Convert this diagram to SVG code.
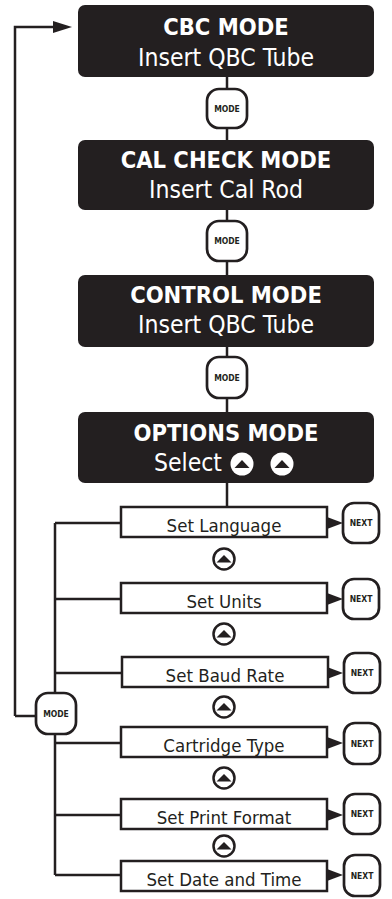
<svg xmlns="http://www.w3.org/2000/svg" width="392" height="899" viewBox="0 0 392 899">
<style>
.mode{fill:#231f20}
.t1{font-family:"DejaVu Sans Condensed","DejaVu Sans",sans-serif;font-size:23.5px;font-weight:bold;fill:#fff;text-anchor:middle}
.t2{font-family:"DejaVu Sans Condensed","DejaVu Sans",sans-serif;font-size:24.5px;fill:#fff;text-anchor:middle}
.opt{fill:#fff;stroke:#231f20;stroke-width:2.5}
.ot{font-family:"DejaVu Sans Condensed","DejaVu Sans",sans-serif;font-size:18.5px;fill:#231f20;text-anchor:middle}
.btn{fill:#fff;stroke:#231f20;stroke-width:2.7}
.bt{font-family:"DejaVu Sans Condensed","DejaVu Sans",sans-serif;font-size:8.5px;font-weight:bold;fill:#231f20;text-anchor:middle}
.ln{fill:none;stroke:#231f20;stroke-width:2.5}
.up{fill:#fff;stroke:#231f20;stroke-width:2.5}
.tri{fill:#231f20}
</style>
<g id="connectors">
<path class="ln" d="M227 77V140M227 210V275M227 347V412M227 483V507"/>
<path class="ln" d="M15 716V27H56"/>
<polygon class="tri" points="53,21 72,27 53,33"/>
<path class="ln" d="M15 716H37"/>
<path class="ln" d="M55 523V875"/>
<path class="ln" d="M55 523H121M55 599H121M55 673H121M55 743H121M55 815H121M55 875H121"/>
<polygon class="tri" points="327,517 343,523 327,529"/>
<polygon class="tri" points="327,593 343,599 327,605"/>
<polygon class="tri" points="327,667 343,673 327,679"/>
<polygon class="tri" points="327,737 343,743 327,749"/>
<polygon class="tri" points="327,809 343,815 327,821"/>
<polygon class="tri" points="327,869 343,875 327,881"/>
</g>
<g id="cbc">
<rect class="mode" x="78" y="5" width="296" height="72" rx="7"/>
<text class="t1" x="226" y="35">CBC MODE</text>
<text class="t2" x="226" y="66">Insert QBC Tube</text>
</g>
<g id="mode1"><rect class="btn" x="207" y="89" width="40" height="39" rx="12"/><text class="bt" x="227" y="111.5">MODE</text></g>
<g id="calcheck">
<rect class="mode" x="78" y="140" width="296" height="70" rx="7"/>
<text class="t1" x="226" y="168">CAL CHECK MODE</text>
<text class="t2" x="226" y="198">Insert Cal Rod</text>
</g>
<g id="mode2"><rect class="btn" x="207" y="221" width="40" height="40" rx="12"/><text class="bt" x="227" y="244">MODE</text></g>
<g id="control">
<rect class="mode" x="78" y="275" width="296" height="72" rx="7"/>
<text class="t1" x="226" y="303">CONTROL MODE</text>
<text class="t2" x="226" y="333">Insert QBC Tube</text>
</g>
<g id="mode3"><rect class="btn" x="207" y="357" width="40" height="41" rx="12"/><text class="bt" x="227" y="380.5">MODE</text></g>
<g id="options">
<rect class="mode" x="78" y="412" width="296" height="71" rx="7"/>
<text class="t1" x="226" y="441">OPTIONS MODE</text>
<text class="t2" x="222" y="471" style="text-anchor:end">Select</text>
<circle cx="242" cy="464" r="11.5" fill="#fff"/>
<polygon class="tri" points="234.5,468 242,460 249.5,468"/>
<circle cx="282" cy="464" r="11.5" fill="#fff"/>
<polygon class="tri" points="274.5,468 282,460 289.5,468"/>
</g>
<g id="set-language"><rect class="opt" x="121" y="507" width="206" height="30"/><text class="ot" x="224" y="532">Set Language</text></g>
<g id="next1"><rect class="btn" x="343" y="503" width="36" height="40" rx="11"/><text class="bt" x="361" y="526">NEXT</text></g>
<g id="up1"><circle class="up" cx="224" cy="559" r="10.5"/><polygon class="tri" points="216.5,562.5 224,555 231.5,562.5"/></g>
<g id="set-units"><rect class="opt" x="121" y="583" width="206" height="30"/><text class="ot" x="224" y="608">Set Units</text></g>
<g id="next2"><rect class="btn" x="343" y="579" width="36" height="40" rx="11"/><text class="bt" x="361" y="602">NEXT</text></g>
<g id="up2"><circle class="up" cx="224" cy="634" r="10.5"/><polygon class="tri" points="216.5,637.5 224,630 231.5,637.5"/></g>
<g id="set-baud-rate"><rect class="opt" x="122" y="657" width="206" height="30"/><text class="ot" x="225" y="682">Set Baud Rate</text></g>
<g id="next3"><rect class="btn" x="344" y="653" width="36" height="40" rx="11"/><text class="bt" x="362" y="676">NEXT</text></g>
<g id="up3"><circle class="up" cx="224" cy="707" r="10.5"/><polygon class="tri" points="216.5,710.5 224,703 231.5,710.5"/></g>
<g id="mode-left"><rect class="btn" x="36" y="693" width="40" height="41" rx="12"/><text class="bt" x="56" y="716.5">MODE</text></g>
<g id="cartridge-type"><rect class="opt" x="121" y="727" width="206" height="30"/><text class="ot" x="224" y="752">Cartridge Type</text></g>
<g id="next4"><rect class="btn" x="344" y="723" width="36" height="41" rx="11"/><text class="bt" x="362" y="746.5">NEXT</text></g>
<g id="up4"><circle class="up" cx="224" cy="778" r="10.5"/><polygon class="tri" points="216.5,781.5 224,774 231.5,781.5"/></g>
<g id="set-print-format"><rect class="opt" x="121" y="799" width="206" height="30"/><text class="ot" x="224" y="824">Set Print Format</text></g>
<g id="next5"><rect class="btn" x="344" y="794" width="36" height="40" rx="11"/><text class="bt" x="362" y="817">NEXT</text></g>
<g id="up5"><circle class="up" cx="224" cy="846" r="10.5"/><polygon class="tri" points="216.5,849.5 224,842 231.5,849.5"/></g>
<g id="set-date-time"><rect class="opt" x="121" y="861" width="206" height="30"/><text class="ot" x="224" y="886">Set Date and Time</text></g>
<g id="next6"><rect class="btn" x="344" y="855" width="36" height="41" rx="11"/><text class="bt" x="362" y="878.5">NEXT</text></g>
</svg>
